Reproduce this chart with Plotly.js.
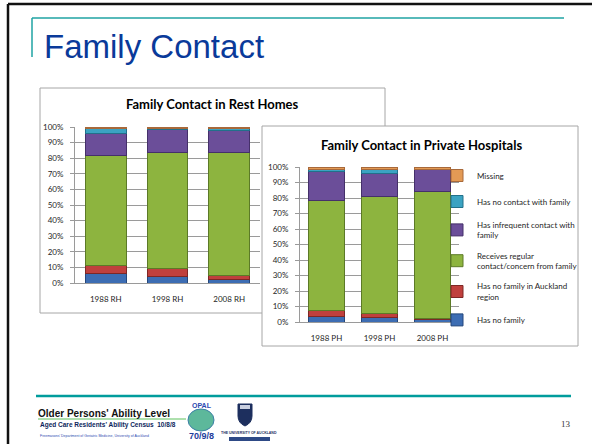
<!DOCTYPE html>
<html>
<head>
<meta charset="utf-8">
<script src="https://cdn.plot.ly/plotly-3.0.1.min.js"></script>
<style>
html,body{margin:0;padding:0;background:#fff;}
#chart{width:592px;height:444px;}
</style>
</head>
<body>
<div id="chart"></div>
<script>
// ---------- data ----------
const slideTitle = 'Family Contact';
const rhTitle = 'Family Contact in Rest Homes';
const phTitle = 'Family Contact in Private Hospitals';
const rhCategories = ['1988 RH', '1998 RH', '2008 RH'];
const phCategories = ['1988 PH', '1998 PH', '2008 PH'];
const seriesNames = [
  'Has no family',
  'Has no family in Auckland<br>region',
  'Receives regular<br>contact/concern from family',
  'Has infrequent contact with<br>family',
  'Has no contact with family',
  'Missing'
];
// Rest homes (share of residents)
const noFamilyRH          = [0.060, 0.043, 0.021];
const noFamilyAucklandRH  = [0.050, 0.047, 0.026];
const regularContactRH    = [0.705, 0.748, 0.791];
const infrequentRH        = [0.145, 0.149, 0.141];
const noContactRH         = [0.030, 0.005, 0.012];
const missingRH           = [0.010, 0.008, 0.009];
// Private hospitals
const noFamilyPH          = [0.035, 0.026, 0.015];
const noFamilyAucklandPH  = [0.041, 0.032, 0.007];
const regularContactPH    = [0.706, 0.752, 0.820];
const infrequentPH        = [0.186, 0.151, 0.141];
const noContactPH         = [0.017, 0.020, 0.003];
const missingPH           = [0.015, 0.019, 0.014];

const footerTitle = "Older Persons' Ability Level";
const footerSub = "Aged Care Residents' Ability Census  10/8/8";
const footerTiny = "Freemasons' Department of Geriatric Medicine, University of Auckland";
const pageNumber = '13';

// ---------- styling ----------
const fills = ['#3D6DB3', '#C0403D', '#8DB43F', '#6B4E99', '#3BA3C2', '#E39A55'];
const edges = ['#24477C', '#7E2725', '#5C7A27', '#45306A', '#22708A', '#A8693A'];
const W = 592, H = 444;
const px = v => v / W;
const py = v => 1 - v / H;
const chartFont = 'Lato, "Open Sans", sans-serif';

const rhSeries = [noFamilyRH, noFamilyAucklandRH, regularContactRH, infrequentRH, noContactRH, missingRH];
const phSeries = [noFamilyPH, noFamilyAucklandPH, regularContactPH, infrequentPH, noContactPH, missingPH];

const traces = [];
rhSeries.forEach((vals, i) => {
  traces.push({
    type: 'bar', x: rhCategories, y: vals, name: seriesNames[i],
    xaxis: 'x', yaxis: 'y', width: 0.66, showlegend: false,
    legendgroup: 'g' + i, legendrank: seriesNames.length - i,
    marker: {color: fills[i], line: {color: edges[i], width: 1}},
    hoverinfo: 'x+y+name'
  });
});
phSeries.forEach((vals, i) => {
  traces.push({
    type: 'bar', x: phCategories, y: vals, name: seriesNames[i],
    xaxis: 'x2', yaxis: 'y2', width: 0.69, showlegend: true,
    legendgroup: 'g' + i, legendrank: seriesNames.length - i,
    marker: {color: fills[i], line: {color: edges[i], width: 1}},
    hoverinfo: 'x+y+name'
  });
});

const yCommon = {
  range: [0, 1], dtick: 0.1, tickformat: '.0%', fixedrange: true,
  showgrid: true, gridcolor: '#9A9A9A', gridwidth: 1,
  showline: true, linecolor: '#9A9A9A', linewidth: 1,
  ticks: 'outside', ticklen: 4, tickcolor: '#9A9A9A',
  ticklabelstandoff: 5,
  tickfont: {family: chartFont, size: 8, color: '#262626'},
  zeroline: false
};
const xCommon = {
  type: 'category', fixedrange: true,
  showline: true, linecolor: '#9A9A9A', linewidth: 1,
  ticks: '', showgrid: false,
  ticklabelstandoff: 8,
  tickfont: {family: chartFont, size: 8, color: '#262626'}
};

const layout = {
  width: W, height: H,
  margin: {l: 0, r: 0, t: 0, b: 0},
  paper_bgcolor: '#ffffff', plot_bgcolor: 'rgba(0,0,0,0)',
  barmode: 'stack',
  showlegend: true,
  legend: {
    x: px(437), y: py(161), xanchor: 'left', yanchor: 'top',
    traceorder: 'grouped', tracegroupgap: 7,
    bgcolor: 'rgba(0,0,0,0)', itemwidth: 30,
    font: {family: chartFont, size: 8, color: '#262626'}
  },
  xaxis: Object.assign({}, xCommon, {domain: [px(75), px(260)], anchor: 'y'}),
  yaxis: Object.assign({}, yCommon, {domain: [py(283), py(127)], anchor: 'x'}),
  xaxis2: Object.assign({}, xCommon, {domain: [px(300), px(459)], anchor: 'y2'}),
  yaxis2: Object.assign({}, yCommon, {domain: [py(322), py(167)], anchor: 'x2'}),
  shapes: [
    // slide frame
    {type: 'line', xref: 'paper', yref: 'paper', x0: px(8), x1: px(592), y0: py(4), y1: py(4), line: {color: '#111', width: 2.5}},
    {type: 'line', xref: 'paper', yref: 'paper', x0: px(8), x1: px(8), y0: py(4), y1: py(444), line: {color: '#111', width: 2.5}},
    // title teal accents
    {type: 'line', xref: 'paper', yref: 'paper', x0: px(32), x1: px(564), y0: py(18), y1: py(18), line: {color: '#1FA3A3', width: 1.5}},
    {type: 'line', xref: 'paper', yref: 'paper', x0: px(32), x1: px(32), y0: py(18), y1: py(57), line: {color: '#1FA3A3', width: 1.5}},
    // chart boxes
    {type: 'rect', xref: 'paper', yref: 'paper', layer: 'below', x0: px(40), x1: px(385), y0: py(313), y1: py(88), fillcolor: '#ffffff', line: {color: '#A6A6A6', width: 1}},
    {type: 'rect', xref: 'paper', yref: 'paper', layer: 'below', x0: px(262), x1: px(578), y0: py(346), y1: py(126), fillcolor: '#ffffff', line: {color: '#A6A6A6', width: 1}},
    // footer line
    {type: 'line', xref: 'paper', yref: 'paper', x0: px(36), x1: px(571), y0: py(396), y1: py(396), line: {color: '#009C9C', width: 2.5}},
    // green underline of footer title
    {type: 'line', xref: 'paper', yref: 'paper', x0: px(38), x1: px(186), y0: py(419), y1: py(419), line: {color: '#5CC15C', width: 1}},
    // OPAL globe
    {type: 'circle', xref: 'paper', yref: 'paper', x0: px(188), x1: px(214), y0: py(431), y1: py(409), fillcolor: '#5DB89B', line: {color: '#3C7FA6', width: 1}},
    // university crest
    {type: 'path', xref: 'paper', yref: 'paper',
     path: `M ${px(238)} ${py(404)} L ${px(252)} ${py(404)} L ${px(252)} ${py(416)} Q ${px(252)} ${py(423)} ${px(245)} ${py(426)} Q ${px(238)} ${py(423)} ${px(238)} ${py(416)} Z`,
     fillcolor: '#1D2F5E', line: {color: '#1D2F5E', width: 1}},
    {type: 'rect', xref: 'paper', yref: 'paper', x0: px(240), x1: px(250), y0: py(409), y1: py(405), fillcolor: '#C9CFE0', line: {width: 0}},
    {type: 'rect', xref: 'paper', yref: 'paper', x0: px(229), x1: px(270), y0: py(441), y1: py(437), fillcolor: '#2E4A86', line: {width: 0}}
  ],
  annotations: [
    {text: slideTitle, xref: 'paper', yref: 'paper', x: px(42), y: py(67), xanchor: 'left', yanchor: 'bottom', showarrow: false,
     font: {family: '"Liberation Sans", Arial, sans-serif', size: 33, color: '#0A3A9A'}},
    {text: '<b>' + rhTitle + '</b>', xref: 'paper', yref: 'paper', x: px(212), y: py(104), xanchor: 'center', yanchor: 'middle', showarrow: false,
     font: {family: chartFont, size: 13, color: '#000'}},
    {text: '<b>' + phTitle + '</b>', xref: 'paper', yref: 'paper', x: px(421), y: py(145), xanchor: 'center', yanchor: 'middle', showarrow: false,
     font: {family: chartFont, size: 13, color: '#000'}},
    {text: '<b>' + footerTitle + '</b>', xref: 'paper', yref: 'paper', x: px(36), y: py(413), xanchor: 'left', yanchor: 'middle', showarrow: false,
     font: {family: '"Liberation Sans", Arial, sans-serif', size: 10, color: '#111'}},
    {text: '<b>' + footerSub + '</b>', xref: 'paper', yref: 'paper', x: px(38), y: py(425), xanchor: 'left', yanchor: 'middle', showarrow: false,
     font: {family: '"Liberation Sans", Arial, sans-serif', size: 6.5, color: '#0D1F5C'}},
    {text: footerTiny, xref: 'paper', yref: 'paper', x: px(38), y: py(436), xanchor: 'left', yanchor: 'middle', showarrow: false,
     font: {family: '"Liberation Sans", Arial, sans-serif', size: 3.5, color: '#2C49B0'}},
    {text: '<b>OPAL</b>', xref: 'paper', yref: 'paper', x: px(202), y: py(405), xanchor: 'center', yanchor: 'middle', showarrow: false,
     font: {family: '"Liberation Sans", Arial, sans-serif', size: 7, color: '#2C49B0'}},
    {text: '<b>70/9/8</b>', xref: 'paper', yref: 'paper', x: px(201), y: py(436), xanchor: 'center', yanchor: 'middle', showarrow: false,
     font: {family: '"Liberation Sans Narrow", "Liberation Sans", Arial, sans-serif', size: 9, color: '#1E3C9C'}},
    {text: '<b>THE UNIVERSITY OF AUCKLAND</b>', xref: 'paper', yref: 'paper', x: px(249), y: py(433), xanchor: 'center', yanchor: 'middle', showarrow: false,
     font: {family: '"Liberation Sans", Arial, sans-serif', size: 3.5, color: '#1D2F5E'}},
    {text: pageNumber, xref: 'paper', yref: 'paper', x: px(566), y: py(424), xanchor: 'center', yanchor: 'middle', showarrow: false,
     font: {family: '"Liberation Serif", "Times New Roman", serif', size: 9, color: '#333'}}
  ]
};

Plotly.newPlot('chart', traces, layout, {displayModeBar: false, staticPlot: true});
</script>
</body>
</html>
